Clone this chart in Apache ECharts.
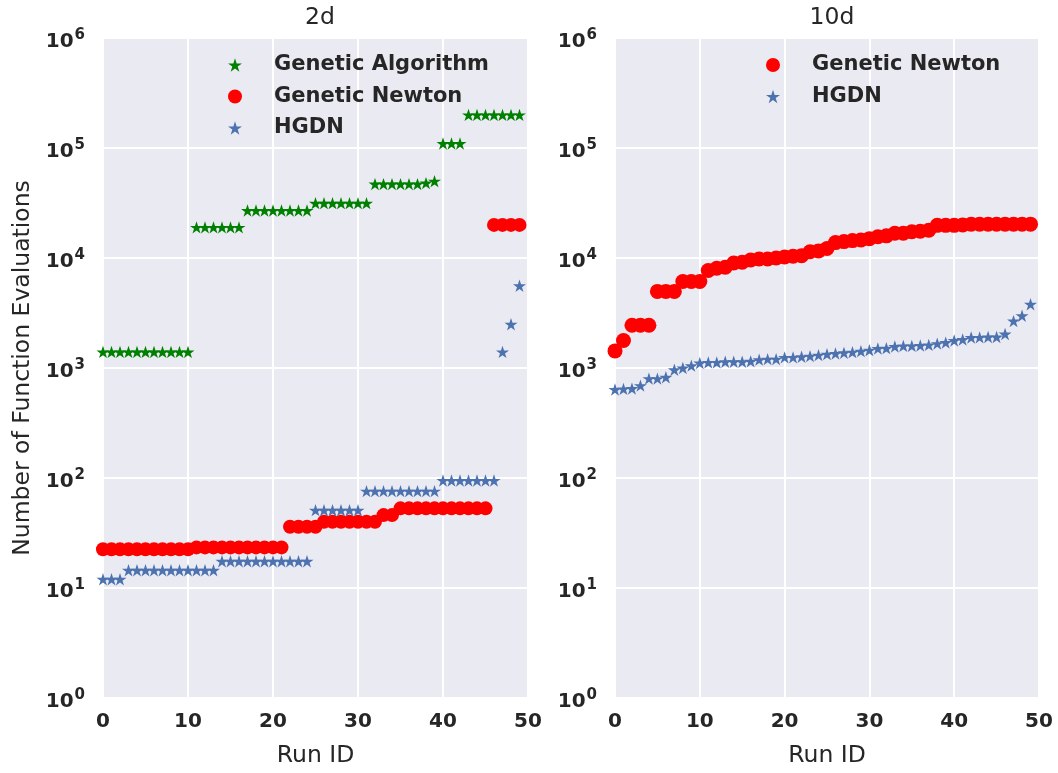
<!DOCTYPE html>
<html>
<head>
<meta charset="utf-8">
<script src="https://cdn.jsdelivr.net/npm/echarts@6/dist/echarts.min.js"></script>
<style>
  html, body { margin: 0; padding: 0; background: #ffffff; }
  #chart { width: 1058px; height: 773px; }
</style>
</head>
<body>
<div id="chart"></div>
<script>
// Run identifiers shared by both panels
const runs = [0,1,2,3,4,5,6,7,8,9,10,11,12,13,14,15,16,17,18,19,20,21,22,23,24,
              25,26,27,28,29,30,31,32,33,34,35,36,37,38,39,40,41,42,43,44,45,46,47,48,49];

// 2d problem: function evaluations per run
const gaEvals2d = [1400,1400,1400,1400,1400,1400,1400,1400,1400,1400,1400,
                   19000,19000,19000,19000,19000,19000,
                   27000,27000,27000,27000,27000,27000,27000,27000,
                   31500,31500,31500,31500,31500,31500,31500,
                   47000,47000,47000,47000,47000,47000,48000,50000,
                   110000,110000,110000,
                   200000,200000,200000,200000,200000,200000,200000];
const gnEvals2d = [22.5,22.5,22.5,22.5,22.5,22.5,22.5,22.5,22.5,22.5,22.5,
                   23.4,23.4,23.4,23.4,23.4,23.4,23.4,23.4,23.4,23.4,23.4,
                   36,36,36,36,
                   40,40,40,40,40,40,40,
                   46,46,
                   53,53,53,53,53,53,53,53,53,53,53,
                   20000,20000,20000,20000];
const hgdnEvals2d = [12,12,12,
                     14.5,14.5,14.5,14.5,14.5,14.5,14.5,14.5,14.5,14.5,14.5,
                     17.5,17.5,17.5,17.5,17.5,17.5,17.5,17.5,17.5,17.5,17.5,
                     51,51,51,51,51,51,
                     76,76,76,76,76,76,76,76,76,
                     95,95,95,95,95,95,95,
                     1400,2500,5600];

// 10d problem: function evaluations per run
const gnEvals10d = [1430,1780,2450,2450,2450,4970,4970,4970,6120,6120,6120,7690,8070,8250,
                    9010,9150,9590,9790,9790,10000,10200,10400,10500,11400,11600,12200,
                    13800,14100,14400,14600,15000,15600,15900,16800,16800,17300,17500,17900,
                    19800,19800,19800,20000,20300,20300,20300,20300,20300,20300,20300,20300];
const hgdnEvals10d = [638,646,650,692,801,801,824,965,1000,1050,1110,1125,1125,1140,1140,1140,
                      1150,1190,1205,1205,1250,1250,1265,1283,1310,1337,1355,1374,1393,1422,
                      1453,1504,1514,1568,1589,1589,1600,1622,1667,1703,1777,1815,1893,1900,
                      1914,1914,2036,2670,2987,3800];

const panelTitles = ['2d', '10d'];

const FONT = 'DejaVu Sans';
const INK = '#262626';
const STAR = 'path://M100 0 L122.45 69.1 L195.11 69.1 L136.33 111.8 L158.78 180.9 L100 138.2 L41.22 180.9 L63.67 111.8 L4.89 69.1 L77.55 69.1 Z';
const GREEN = '#008000', RED = '#ff0000', BLUE = '#4c72b0';

const pairs = (ys) => runs.map((r, i) => [r, ys[i]]);
const decade = (v) => Math.round(Math.log10(v));

function xAxis(idx) {
  return {
    gridIndex: idx, type: 'value', min: 0, max: 50, interval: 10,
    name: 'Run ID', nameLocation: 'middle', nameGap: 46,
    nameTextStyle: { fontFamily: FONT, fontSize: 23.5, color: INK },
    axisLine: { show: false }, axisTick: { show: false },
    axisLabel: { fontFamily: FONT, fontSize: 20, fontWeight: 'bold', color: INK, margin: 14 },
    splitLine: { lineStyle: { color: '#ffffff', width: 2 } }
  };
}

function yAxis(idx, withName) {
  return {
    gridIndex: idx, type: 'log', logBase: 10, min: 1, max: 1e6, splitNumber: 6,
    name: withName ? 'Number of Function Evaluations' : '',
    nameLocation: 'middle', nameGap: 68,
    nameTextStyle: { fontFamily: FONT, fontSize: 23.5, color: INK },
    axisLine: { show: false }, axisTick: { show: false },
    minorTick: { show: false }, minorSplitLine: { show: false },
    axisLabel: {
      margin: 18,
      padding: [5, 0, 0, 0],
      formatter: (v) => '{b|10}{s|' + decade(v) + '}',
      rich: {
        b: { fontFamily: FONT, fontSize: 20, fontWeight: 'bold', color: INK, lineHeight: 22, verticalAlign: 'bottom' },
        s: { fontFamily: FONT, fontSize: 15, fontWeight: 'bold', color: INK, lineHeight: 14, padding: [0, 0, 9, 1], verticalAlign: 'bottom' }
      }
    },
    splitLine: { lineStyle: { color: '#ffffff', width: 2 } }
  };
}

function scatter(name, idx, data, symbol, size, color, z) {
  return {
    name: name, type: 'scatter', xAxisIndex: idx, yAxisIndex: idx,
    data: pairs(data), symbol: symbol, symbolSize: size, symbolKeepAspect: true,
    itemStyle: { color: color, opacity: 1 }, z: z,
    emphasis: { disabled: true }, animation: false
  };
}

const legendText = { fontFamily: FONT, fontSize: 21, fontWeight: 'bold', color: INK, lineHeight: 22, padding: [0, 0, 0, 27] };

const chart = echarts.init(document.getElementById('chart'), null, { renderer: 'canvas' });
chart.setOption({
  animation: false,
  backgroundColor: '#ffffff',
  title: [
    { text: panelTitles[0], left: 315, top: 1, textAlign: 'center',
      textStyle: { fontFamily: FONT, fontSize: 23.5, fontWeight: 'normal', color: INK } },
    { text: panelTitles[1], left: 827, top: 1, textAlign: 'center',
      textStyle: { fontFamily: FONT, fontSize: 23.5, fontWeight: 'normal', color: INK } }
  ],
  legend: [
    { orient: 'vertical', left: 223, top: 49, itemWidth: 14, itemHeight: 14, itemGap: 9.5,
      data: [
        { name: 'Genetic Algorithm', icon: STAR },
        { name: 'Genetic Newton', icon: 'circle' },
        { name: 'HGDN', icon: STAR }
      ],
      textStyle: legendText, selectedMode: false },
    { orient: 'vertical', left: 761, top: 49, itemWidth: 14, itemHeight: 14, itemGap: 9.5,
      data: [
        { name: 'Genetic Newton ', icon: 'circle' },
        { name: 'HGDN ', icon: STAR }
      ],
      formatter: (n) => n.trim(),
      textStyle: legendText, selectedMode: false }
  ],
  grid: [
    { left: 103, right: 530, top: 38, bottom: 73, show: true, backgroundColor: '#eaeaf2', borderWidth: 0 },
    { left: 615, right: 19, top: 38, bottom: 73, show: true, backgroundColor: '#eaeaf2', borderWidth: 0 }
  ],
  xAxis: [xAxis(0), xAxis(1)],
  yAxis: [yAxis(0, true), yAxis(1, false)],
  series: [
    scatter('Genetic Algorithm', 0, gaEvals2d, STAR, 13, GREEN, 2),
    scatter('Genetic Newton', 0, gnEvals2d, 'circle', 14, RED, 3),
    scatter('HGDN', 0, hgdnEvals2d, STAR, 13, BLUE, 4),
    scatter('Genetic Newton ', 1, gnEvals10d, 'circle', 15, RED, 3),
    scatter('HGDN ', 1, hgdnEvals10d, STAR, 13, BLUE, 4)
  ]
});
</script>
</body>
</html>
